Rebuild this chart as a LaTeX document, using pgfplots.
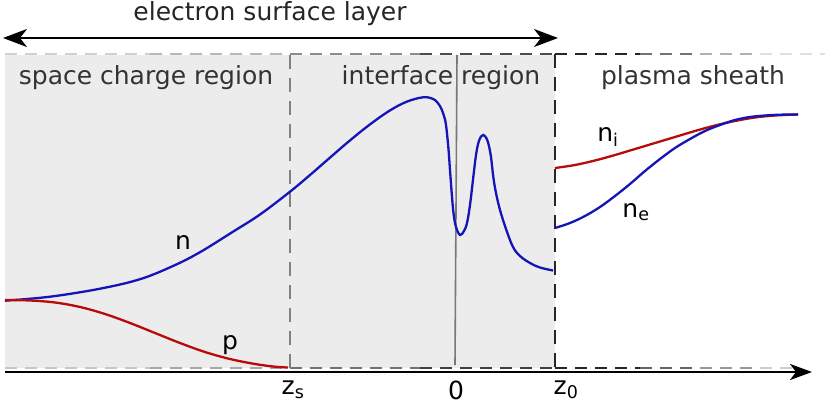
\documentclass[border=0pt]{standalone}
\usepackage{fontspec}
\setmainfont{DejaVu Sans}
\usepackage{pgfplots}
\pgfplotsset{compat=1.18}
\usetikzlibrary{arrows.meta}
\definecolor{nblue}{RGB}{20,20,185}
\definecolor{pred}{RGB}{185,10,10}
\definecolor{bggray}{RGB}{236,236,236}
\definecolor{vline}{RGB}{120,120,120}

\begin{document}
\fontsize{25}{30}\selectfont
\begin{tikzpicture}
\begin{axis}[
    x=1pt, y=1pt,
    xmin=0, xmax=830, ymin=0, ymax=405,
    hide axis, clip=false,
]
% invisible frame so the page has the full size
\addplot[draw=none] coordinates {(0,0) (830,405)};

% shaded surface layer
\addplot[fill=bggray, draw=none] coordinates {(5,37) (555,37) (555,350) (5,350)} -- cycle;

% dashed borders (fading greys)
\tikzset{dl/.style={line width=2pt, dash pattern=on 12pt off 8pt}}
\draw[dl, black!18] (axis cs:5,351) -- (axis cs:150,351);
\draw[dl, black!28] (axis cs:150,351) -- (axis cs:290,351);
\draw[dl, black!45] (axis cs:290,351) -- (axis cs:420,351);
\draw[dl, black!70] (axis cs:420,351) -- (axis cs:555,351);
\draw[dl, black!85] (axis cs:555,351) -- (axis cs:640,351);
\draw[dl, black!55] (axis cs:640,351) -- (axis cs:700,351);
\draw[dl, black!30] (axis cs:700,351) -- (axis cs:760,351);
\draw[dl, black!12] (axis cs:760,351) -- (axis cs:825,351);

\draw[dl, black!22] (axis cs:5,37) -- (axis cs:150,37);
\draw[dl, black!35] (axis cs:150,37) -- (axis cs:290,37);
\draw[dl, black!55] (axis cs:290,37) -- (axis cs:420,37);
\draw[dl, black!75] (axis cs:420,37) -- (axis cs:555,37);
\draw[dl, black!85] (axis cs:555,37) -- (axis cs:640,37);
\draw[dl, black!60] (axis cs:640,37) -- (axis cs:700,37);
\draw[dl, black!40] (axis cs:700,37) -- (axis cs:760,37);
\draw[dl, black!20] (axis cs:760,37) -- (axis cs:800,37);

\draw[line width=1.6pt, dash pattern=on 14pt off 9pt, black!50] (axis cs:290,350) -- (axis cs:290,37);
\draw[line width=2pt, dash pattern=on 14pt off 9pt, black!85] (axis cs:555,351) -- (axis cs:555,37);

% interface at z=0
\draw[line width=1.6pt, vline] (axis cs:457,350) -- (axis cs:455,40);

% axis arrow
\draw[line width=2.2pt, -{Stealth[length=22pt, width=16pt, inset=6pt]}] (axis cs:5,33) -- (axis cs:812,33);
% electron surface layer arrow
\draw[line width=2.4pt, {Stealth[length=24pt, width=18pt, inset=7pt]}-{Stealth[length=24pt, width=18pt, inset=7pt]}] (axis cs:3,367) -- (axis cs:558,367);

% densities
\addplot[nblue, line width=2.3pt, smooth, tension=0.6] coordinates {
  (5,104.3) (50,108.3) (100,116.3) (140,125.8) (173,139) (200,152.8)
  (233,173.3) (260,190.5) (290,213.3) (310,230) (330,247.4) (350,264.6)
  (370,280.6) (390,294.6) (407,303.4) (423,307.7) (432,306.5) (437,303)
  (441,297) (444,289) (446,280) (448.3,258) (450,235) (451.7,212)
  (453.5,192) (456,178) (460,170) (464,174) (467,182) (470,200)
  (473.3,228) (476,250) (478.3,262) (481,268.5) (483.3,270) (486,267.5)
  (488.3,261.7) (491,248) (493.3,228) (496,212) (500,195) (506,176)
  (513,158) (520,149) (530,142) (540,137.5) (553,134.5)
};
\addplot[pred, line width=2.3pt, smooth, tension=0.6] coordinates {
  (5,105) (30,104.5) (55,102.5) (80,98) (105,91) (130,82) (155,72)
  (180,62) (205,53) (230,46) (255,41) (275,38.3) (288,37.5)
};
\addplot[pred, line width=2.3pt, smooth, tension=0.6] coordinates {
  (555,237) (575,240) (595,244.5) (615,250) (635,256) (655,262) (675,268)
  (695,274) (715,279.5) (735,284) (755,287.5) (775,289.5) (798,290.5)
};
\addplot[nblue, line width=2.3pt, smooth, tension=0.6] coordinates {
  (555,177) (570,182) (585,189) (600,198) (615,209) (630,221) (645,234)
  (660,246) (675,257) (690,266) (705,274) (720,280) (735,285) (750,288)
  (765,289.5) (780,290.3) (798,290.5)
};

% texts
\tikzset{every node/.append style={inner sep=0pt}}
\node[text=black!85] at (axis cs:270,391) {electron surface layer};
\node[text=black!80] at (axis cs:146,327) {space charge region};
\node[text=black!80] at (axis cs:441,327) {interface region};
\node[text=black!80] at (axis cs:693,327) {plasma sheath};
\node at (axis cs:183,163) {n};
\node at (axis cs:230,60) {p};
\node at (axis cs:608,268) {n\textsubscript{i}};
\node at (axis cs:636,193) {n\textsubscript{e}};
\node at (axis cs:293,15) {z\textsubscript{s}};
\node at (axis cs:456,15) {0};
\node at (axis cs:566,15) {z\textsubscript{0}};
\end{axis}
\end{tikzpicture}
\end{document}
